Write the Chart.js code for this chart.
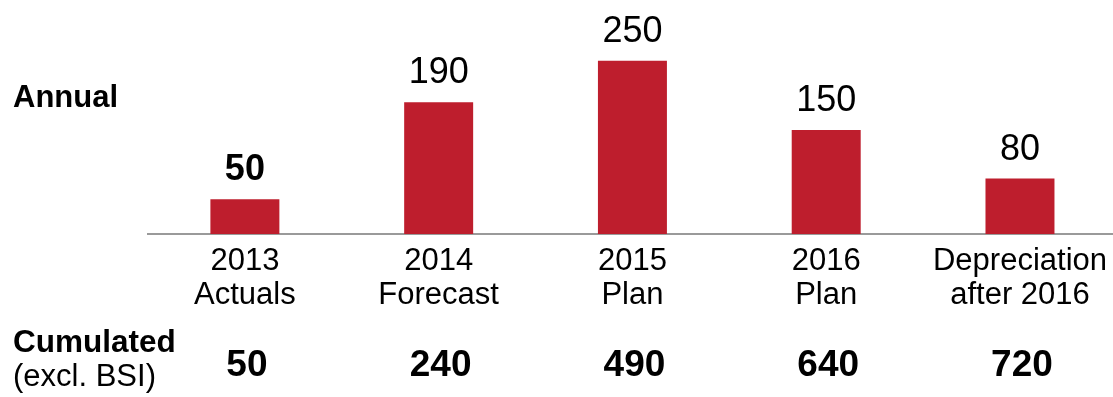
<!DOCTYPE html>
<html>
<head>
<meta charset="utf-8">
<script src="https://cdn.jsdelivr.net/npm/chart.js@4/dist/chart.umd.min.js"></script>
<style>
  html, body { margin: 0; padding: 0; background: #fff; overflow: hidden; }
  #wrap { width: 1118px; height: 397px; }
</style>
</head>
<body>
<div id="wrap"><canvas id="capexChart" width="1118" height="397"></canvas></div>
<script>
// categories and values
var categories = [
  ["2013", "Actuals"],
  ["2014", "Forecast"],
  ["2015", "Plan"],
  ["2016", "Plan"],
  ["Depreciation", "after 2016"]
];
var annual = [50, 190, 250, 150, 80];
var cumulated = [50, 240, 490, 640, 720];

var FONT = "'Liberation Sans', Arial, sans-serif";
var barColor = "#BE1E2D";

// labels above each bar, first one in bold
var valueLabels = {
  id: "valueLabels",
  afterDatasetsDraw: function (chart) {
    var ctx = chart.ctx;
    var meta = chart.getDatasetMeta(0);
    ctx.save();
    ctx.fillStyle = "#000";
    ctx.textAlign = "center";
    ctx.textBaseline = "alphabetic";
    meta.data.forEach(function (bar, i) {
      ctx.font = (i === 0 ? "bold " : "") + "36px " + FONT;
      ctx.fillText(String(annual[i]), bar.x, bar.y - 19);
    });
    ctx.restore();
  }
};

// row headers and the cumulated totals under the axis
var rowLabels = {
  id: "rowLabels",
  afterDraw: function (chart) {
    var ctx = chart.ctx;
    var xScale = chart.scales.x;
    ctx.save();
    ctx.fillStyle = "#000";
    ctx.textBaseline = "alphabetic";
    ctx.textAlign = "left";
    ctx.font = "bold 31px " + FONT;
    ctx.fillText("Annual", 13, 107);
    ctx.font = "bold 31.5px " + FONT;
    ctx.fillText("Cumulated", 13, 352);
    ctx.font = "31px " + FONT;
    ctx.fillText("(excl. BSI)", 13, 386);

    ctx.textAlign = "center";
    ctx.font = "bold 37px " + FONT;
    cumulated.forEach(function (v, i) {
      ctx.fillText(String(v), xScale.getPixelForValue(i) + 2, 376);
    });
    ctx.restore();
  }
};

var ctx = document.getElementById("capexChart").getContext("2d");
var myChart = new Chart(ctx, {
  type: "bar",
  data: {
    labels: categories,
    datasets: [{
      data: annual,
      backgroundColor: barColor,
      borderWidth: 0,
      barPercentage: 0.356,
      categoryPercentage: 1
    }]
  },
  options: {
    responsive: false,
    animation: false,
    layout: {
      padding: { top: 26, left: 148, right: 0, bottom: 0 }
    },
    scales: {
      x: {
        grid: { display: false, drawTicks: false },
        border: { display: true, color: "#9A9A9A", width: 2 },
        ticks: {
          color: "#000",
          autoSkip: false,
          maxRotation: 0,
          padding: 11,
          font: { family: FONT, size: 31, lineHeight: 1.08 }
        },
        afterFit: function (scale) {
          scale.height = 163;
        }
      },
      y: {
        display: false,
        min: 0,
        max: 300
      }
    },
    plugins: {
      legend: { display: false },
      tooltip: { enabled: false }
    }
  },
  plugins: [valueLabels, rowLabels]
});
</script>
</body>
</html>
